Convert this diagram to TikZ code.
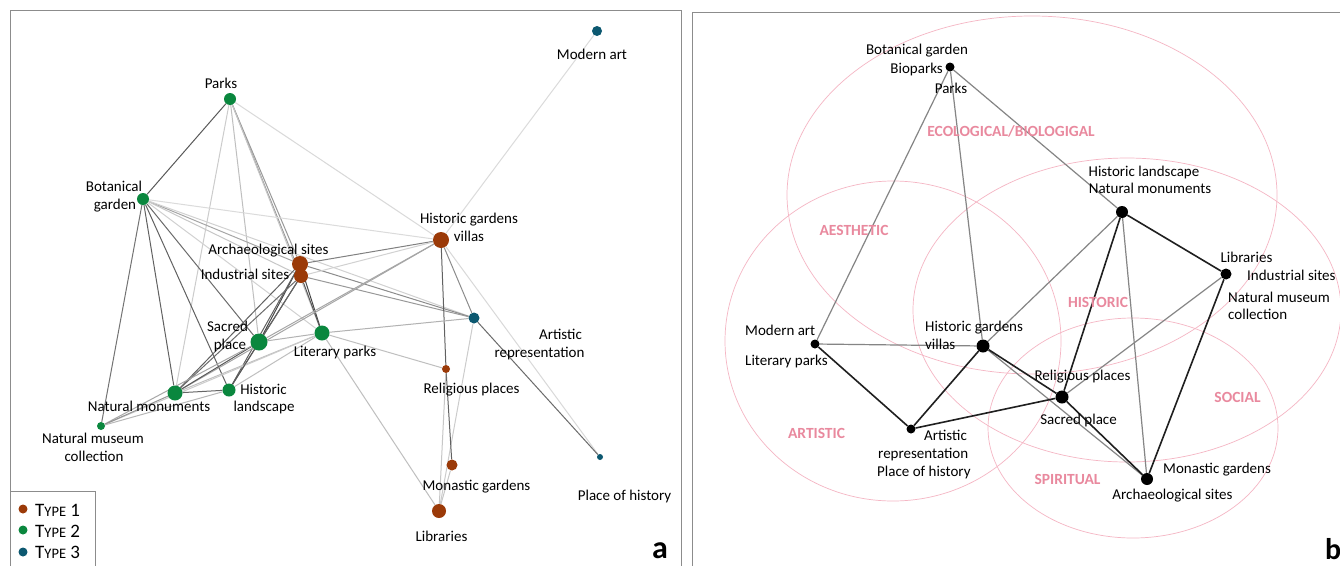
\documentclass[tikz,border=0pt]{standalone}
\usepackage{fontspec}
\setmainfont{Carlito}
\usetikzlibrary{backgrounds}
\definecolor{tone1}{RGB}{155,58,8}
\definecolor{tone2}{RGB}{10,135,62}
\definecolor{tone3}{RGB}{12,88,112}
\definecolor{pinkline}{RGB}{245,182,196}
\definecolor{pinktext}{RGB}{233,137,158}
\definecolor{framegray}{RGB}{140,140,140}
\tikzset{
  lbl/.style={font=\fontsize{15}{18}\selectfont, inner sep=0pt, anchor=base},
  lblw/.style={lbl, anchor=base west},
  lble/.style={lbl, anchor=base east},
  cat/.style={font=\bfseries\fontsize{15.5}{18}\selectfont, text=pinktext, inner sep=0pt},
  dotA/.style={circle, fill=tone1, inner sep=0pt, minimum size=#1},
  dotB/.style={circle, fill=tone2, inner sep=0pt, minimum size=#1},
  dotC/.style={circle, fill=tone3, inner sep=0pt, minimum size=#1},
  dotK/.style={circle, fill=black, inner sep=0pt, minimum size=#1},
  lnk/.style={line width=1pt, draw=black!#1},
  blk/.style={line width=1.6pt, draw=black!88},
  gry/.style={line width=1.2pt, draw=black!48},
  ring/.style={draw=pinkline, line width=0.7pt},
  frame/.style={draw=framegray, line width=1pt},
}
\begin{document}
\begin{tikzpicture}[x=1pt,y=-1pt]
\useasboundingbox (0,0) rectangle (1340,565);
\begin{pgfonlayer}{background}
\fill[white] (0,0) rectangle (1340,565);
\end{pgfonlayer}
% ---------- frames ----------
\draw[frame] (10,580) -- (10,10) -- (681,10) -- (681,580);
\draw[frame] (692,580) -- (692,12) -- (1360,12);
\draw[frame] (10,491) -- (95,491) -- (95,580);

% ---------- panel a : nodes ----------
\node[dotC=10] (aMA) at (597,31) {};
\node[dotB=12] (aPK) at (230,99) {};
\node[dotB=12] (aBG) at (143,199) {};
\node[dotA=16] (aHGV) at (441,240) {};
\node[dotA=16] (aARC) at (300,264) {};
\node[dotA=14] (aIND) at (301,276) {};
\node[dotC=11] (aAR) at (474,318) {};
\node[dotB=17] (aSAC) at (259,342) {};
\node[dotB=15] (aLIT) at (322,333) {};
\node[dotA=8] (aREL) at (446,369) {};
\node[dotB=15] (aNM) at (175,393) {};
\node[dotB=13] (aHL) at (229,390) {};
\node[dotB=8] (aNMC) at (101,426) {};
\node[dotA=11] (aMON) at (452,465) {};
\node[dotA=14] (aLIB) at (439,511) {};
\node[dotC=6] (aPH) at (600,457) {};

% ---------- panel a : labels ----------
\node[lbl] (laMA) at (592,59) {Modern art};
\node[lbl] (laPK) at (221,88) {Parks};
\node[lbl] (laBG1) at (114,191) {Botanical};
\node[lbl] (laBG2) at (115,209) {garden};
\node[lbl] (laARC) at (268.5,254) {Archaeological sites};
\node[lbl] (laIND) at (245,279) {Industrial sites};
\node[lbl] (laHGV1) at (469,223) {Historic gardens};
\node[lbl] (laHGV2) at (469,241) {villas};
\node[lbl] (laAR1) at (560.5,339) {Artistic};
\node[lbl] (laAR2) at (539.5,357) {representation};
\node[lbl] (laSAC1) at (227.5,331) {Sacred};
\node[lbl] (laSAC2) at (230,349) {place};
\node[lbl] (laLIT) at (335,356) {Literary parks};
\node[lbl] (laREL) at (471.5,393) {Religious places};
\node[lbl] (laNM) at (149,411) {Natural monuments};
\node[lbl] (laHL1) at (263.5,394) {Historic};
\node[lbl] (laHL2) at (264,411) {landscape};
\node[lbl] (laNMC1) at (93,443) {Natural museum};
\node[lbl] (laNMC2) at (94,461) {collection};
\node[lbl] (laMON) at (476.5,490) {Monastic gardens};
\node[lbl] (laLIB) at (441.5,541) {Libraries};
\node[lbl] (laPH) at (624.5,500) {Place of history};

% legend
\node[dotA=9] (lg1) at (23,509) {};
\node[dotB=9] (lg2) at (23,530) {};
\node[dotC=9] (lg3) at (23,552) {};
\node[anchor=base west, inner sep=0pt] (lgt1) at (35,516) {\fontsize{19}{20}\selectfont T{\fontsize{14.5}{15}\selectfont YPE} 1};
\node[anchor=base west, inner sep=0pt] (lgt2) at (35,537) {\fontsize{19}{20}\selectfont T{\fontsize{14.5}{15}\selectfont YPE} 2};
\node[anchor=base west, inner sep=0pt] (lgt3) at (35,558) {\fontsize{19}{20}\selectfont T{\fontsize{14.5}{15}\selectfont YPE} 3};
\node[anchor=base, inner sep=0pt, font=\bfseries\fontsize{32}{32}\selectfont] (tagA) at (660,558) {a};
\node[anchor=base west, inner sep=0pt, font=\bfseries\fontsize{30}{30}\selectfont] (tagB) at (1325,559) {b};

% ---------- panel a : edges ----------
\begin{pgfonlayer}{background}
\draw[lnk=65] (aPK) -- (aBG);
\draw[lnk=20] (aPK) -- (aNM);
\draw[lnk=25] (aPK) -- (aSAC);
\draw[lnk=40] (aPK) -- (aARC);
\draw[lnk=40] (aPK) -- (aIND);
\draw[lnk=22] (aPK) -- (aLIT);
\draw[lnk=15] (aPK) -- (aHGV);
\draw[lnk=55] (aBG) -- (aNMC);
\draw[lnk=62] (aBG) -- (aNM);
\draw[lnk=62] (aBG) -- (aHL);
\draw[lnk=58] (aBG) -- (aSAC);
\draw[lnk=35] (aBG) -- (aARC);
\draw[lnk=22] (aBG) -- (aIND);
\draw[lnk=18] (aBG) -- (aLIT);
\draw[lnk=14] (aBG) -- (aHGV);
\draw[lnk=18] (aBG) -- (aAR);
\draw[lnk=50] (aARC) -- (aHGV);
\draw[lnk=45] (aARC) -- (aAR);
\draw[lnk=72] (aARC) -- (aLIT);
\draw[lnk=72] (aARC) -- (aSAC);
\draw[lnk=62] (aARC) -- (aNM);
\draw[lnk=62] (aARC) -- (aHL);
\draw[lnk=18] (aIND) -- (aHGV);
\draw[lnk=40] (aIND) -- (aAR);
\draw[lnk=65] (aIND) -- (aLIT);
\draw[lnk=72] (aIND) -- (aSAC);
\draw[lnk=58] (aIND) -- (aNM);
\draw[lnk=60] (aIND) -- (aHL);
\draw[lnk=14] (aHGV) -- (aMA);
\draw[lnk=62] (aHGV) -- (aREL);
\draw[lnk=45] (aHGV) -- (aAR);
\draw[lnk=15] (aHGV) -- (aPH);
\draw[lnk=35] (aHGV) -- (aSAC);
\draw[lnk=35] (aHGV) -- (aNM);
\draw[lnk=58] (aAR) -- (aPH);
\draw[lnk=20] (aAR) -- (aLIB);
\draw[lnk=30] (aAR) -- (aLIT);
\draw[lnk=25] (aLIT) -- (aREL);
\draw[lnk=25] (aLIT) -- (aLIB);
\draw[lnk=30] (aLIT) -- (aSAC);
\draw[lnk=25] (aLIT) -- (aNM);
\draw[lnk=25] (aLIT) -- (aHL);
\draw[lnk=20] (aLIT) -- (aNMC);
\draw[lnk=65] (aSAC) -- (aNM);
\draw[lnk=65] (aSAC) -- (aHL);
\draw[lnk=35] (aSAC) -- (aNMC);
\draw[lnk=60] (aNM) -- (aHL);
\draw[lnk=42] (aNM) -- (aNMC);
\draw[lnk=28] (aHL) -- (aNMC);
\draw[lnk=62] (aREL) -- (aMON);
\draw[lnk=22] (aREL) -- (aLIB);
\draw[lnk=22] (aMON) -- (aLIB);
\end{pgfonlayer}

% ---------- panel b : rings ----------
\begin{pgfonlayer}{background}
\draw[ring] (1032,195) ellipse [x radius=245pt, y radius=179pt];
\draw[ring] (893,341) ellipse [x radius=168pt, y radius=160pt];
\draw[ring] (1127,310) ellipse [x radius=214pt, y radius=152pt];
\draw[ring] (1133,428) ellipse [x radius=145pt, y radius=110pt];
\end{pgfonlayer}
\node[cat] (cEco) at (1011,131) {ECOLOGICAL/BIOLOGIGAL};
\node[cat] (cAes) at (854,230) {AESTHETIC};
\node[cat] (cArt) at (816.5,433) {ARTISTIC};
\node[cat] (cHis) at (1098,302) {HISTORIC};
\node[cat] (cSoc) at (1237.5,397) {SOCIAL};
\node[cat] (cSpi) at (1067.5,479) {SPIRITUAL};

% ---------- panel b : nodes ----------
\node[dotK=9] (bBB) at (950,67) {};
\node[dotK=12] (bHL) at (1122,212) {};
\node[dotK=11] (bLIB) at (1226,274) {};
\node[dotK=9] (bMA) at (815,344) {};
\node[dotK=13] (bHGV) at (983,346) {};
\node[dotK=9] (bAR) at (911,429) {};
\node[dotK=13] (bSP) at (1062,397) {};
\node[dotK=12] (bAS) at (1147,479) {};

\node[lbl] (lbBB1) at (917,54) {Botanical garden};
\node[lble] (lbBB2) at (943,73) {Bioparks};
\node[lbl] (lbBB3) at (951,93) {Parks};
\node[lbl] (lbHL1) at (1144,176) {Historic landscape};
\node[lbl] (lbHL2) at (1150,193) {Natural monuments};
\node[lbl] (lbLIB1) at (1246.5,262) {Libraries};
\node[lblw] (lbLIB2) at (1247,280) {Industrial sites};
\node[lblw] (lbLIB3) at (1228,302) {Natural museum};
\node[lblw] (lbLIB4) at (1228,319) {collection};
\node[lblw] (lbMA1) at (745,335) {Modern art};
\node[lblw] (lbMA2) at (745,365) {Literary parks};
\node[lblw] (lbHGV1) at (925,331) {Historic gardens};
\node[lblw] (lbHGV2) at (925,349) {villas};
\node[lblw] (lbAR1) at (924,440) {Artistic};
\node[lblw] (lbAR2) at (878,458) {representation};
\node[lblw] (lbAR3) at (877,476) {Place of history};
\node[lbl] (lbSP1) at (1082.5,380) {Religious places};
\node[lbl] (lbSP2) at (1078.5,424) {Sacred place};
\node[lblw] (lbAS1) at (1163,473) {Monastic gardens};
\node[lbl] (lbAS2) at (1172.5,499) {Archaeological sites};

% ---------- panel b : edges ----------
\begin{pgfonlayer}{background}
\draw[gry] (bBB) -- (bMA);
\draw[gry] (bBB) -- (bHGV);
\draw[gry] (bBB) -- (bHL);
\draw[gry] (bHL) -- (bHGV);
\draw[gry] (bHL) -- (bAS);
\draw[gry] (bLIB) -- (bSP);
\draw[gry] (bMA) -- (bHGV);
\draw[gry] (bHGV) -- (bAS);
\draw[blk] (bHL) -- (bSP);
\draw[blk] (bHL) -- (bLIB);
\draw[blk] (bLIB) -- (bAS);
\draw[blk] (bMA) -- (bAR);
\draw[blk] (bAR) -- (bHGV);
\draw[blk] (bAR) -- (bSP);
\draw[blk] (bHGV) -- (bSP);
\draw[blk] (bSP) -- (bAS);
\end{pgfonlayer}
\end{tikzpicture}
\end{document}
